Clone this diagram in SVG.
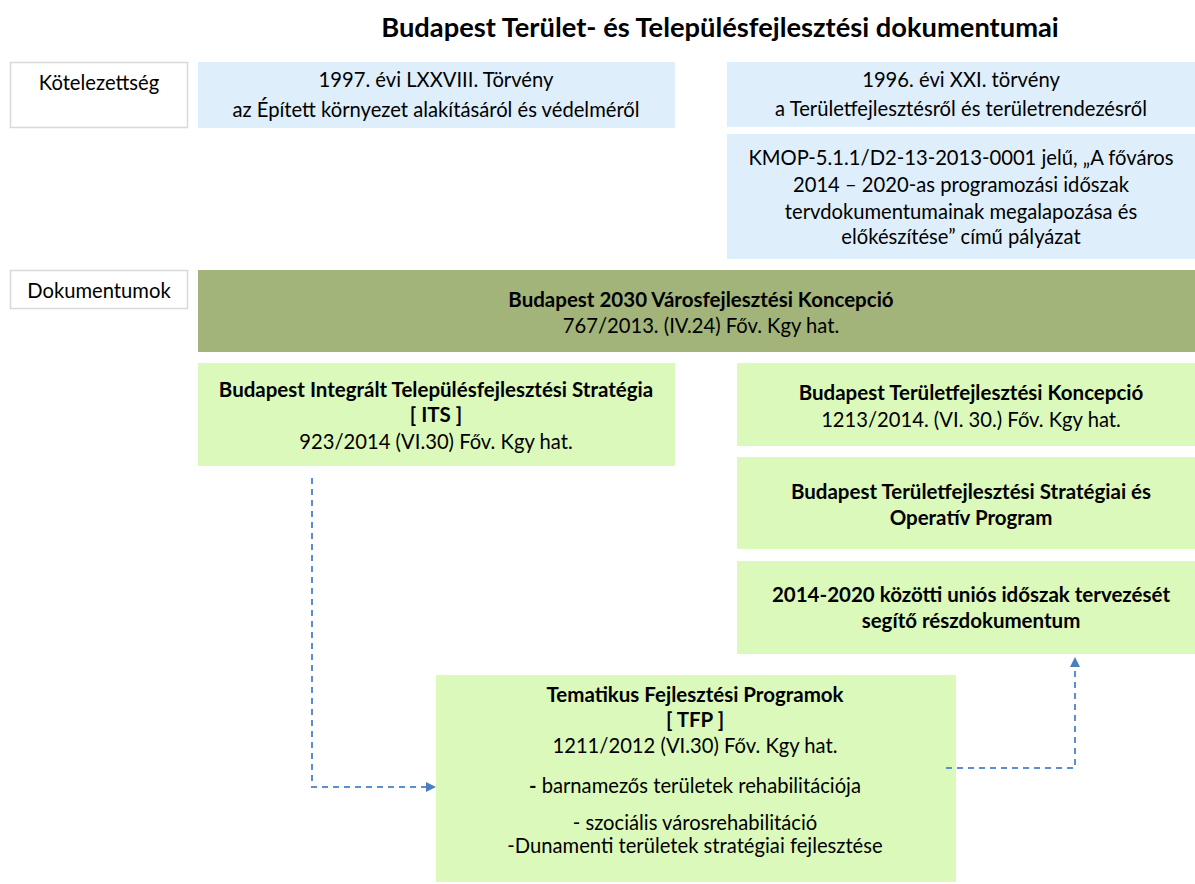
<svg xmlns="http://www.w3.org/2000/svg" width="1195" height="884" viewBox="0 0 1195 884">
<style>
text{font-family:Lato,"Noto Sans","Liberation Sans",sans-serif;fill:#000;text-anchor:middle;font-size:20.2px}
.b{font-weight:bold;font-size:20.5px}
.lbl{fill:#fff;stroke:#d9d9d9;stroke-width:1.5}
.blue{fill:#deeefb}
.dg{fill:#a2b47a}
.lg{fill:#dcf9bc}
.con{fill:none;stroke:#5b8ed0;stroke-width:2;stroke-dasharray:6,5}
</style>
<defs>
<marker id="ah" markerWidth="10" markerHeight="10" refX="8" refY="5" orient="auto" markerUnits="userSpaceOnUse">
<path d="M0,0 L10,5 L0,10 z" fill="#4a7ec2"/>
</marker>
</defs>
<rect width="1195" height="884" fill="#fff"/>
<text x="720" y="37" class="b" style="font-size:27.3px">Budapest Terület- és Településfejlesztési dokumentumai</text>

<g id="kotelezettseg"><rect class="lbl" x="10.5" y="62.5" width="177" height="65"/><text x="99" y="90">Kötelezettség</text></g>
<g id="tv1997"><rect class="blue" x="198" y="62" width="477" height="66"/><text x="436" y="87">1997. évi LXXVIII. Törvény</text><text x="436" y="117">az Épített környezet alakításáról és védelméről</text></g>
<g id="tv1996"><rect class="blue" x="727" y="62" width="468" height="65"/><text x="961" y="87">1996. évi XXI. törvény</text><text x="961" y="116">a Területfejlesztésről és területrendezésről</text></g>
<g id="kmop"><rect class="blue" x="727" y="134" width="468" height="125"/><text x="961" y="165">KMOP-5.1.1/D2-13-2013-0001 jelű, „A főváros</text><text x="961" y="192">2014 – 2020-as programozási időszak</text><text x="961" y="219">tervdokumentumainak megalapozása és</text><text x="961" y="244">előkészítése” című pályázat</text></g>

<g id="dokumentumok"><rect class="lbl" x="10.5" y="270.5" width="177" height="38"/><text x="99" y="298">Dokumentumok</text></g>
<g id="koncepcio2030"><rect class="dg" x="198" y="270" width="997" height="82"/><text x="701" y="307" class="b">Budapest 2030 Városfejlesztési Koncepció</text><text x="701" y="333">767/2013. (IV.24) Főv. Kgy hat.</text></g>
<g id="its"><rect class="lg" x="198" y="363" width="477" height="103"/><text x="436" y="397" class="b">Budapest Integrált Településfejlesztési Stratégia</text><text x="436" y="422" class="b">[ ITS ]</text><text x="436" y="449">923/2014 (VI.30) Főv. Kgy hat.</text></g>
<g id="btk"><rect class="lg" x="737" y="363" width="458" height="83"/><text x="971" y="400" class="b">Budapest Területfejlesztési Koncepció</text><text x="971" y="427">1213/2014. (VI. 30.) Főv. Kgy hat.</text></g>
<g id="btsop"><rect class="lg" x="737" y="457" width="458" height="92"/><text x="971" y="499" class="b">Budapest Területfejlesztési Stratégiai és</text><text x="971" y="525" class="b">Operatív Program</text></g>
<g id="resz"><rect class="lg" x="737" y="561" width="458" height="93"/><text x="971" y="602" class="b">2014-2020 közötti uniós időszak tervezését</text><text x="971" y="628" class="b">segítő részdokumentum</text></g>
<g id="tfp"><rect class="lg" x="436" y="675" width="520" height="207"/><text x="695" y="702" class="b">Tematikus Fejlesztési Programok</text><text x="695" y="727" class="b">[ TFP ]</text><text x="695" y="753">1211/2012 (VI.30) Főv. Kgy hat.</text><text x="695" y="793"><tspan font-weight="bold">-</tspan> barnamezős területek rehabilitációja</text><text x="695" y="830">- szociális városrehabilitáció</text><text x="695" y="853">-Dunamenti területek stratégiai fejlesztése</text></g>

<g id="connectors">
<path class="con" d="M312,478 V787 H434" marker-end="url(#ah)"/>
<path class="con" d="M946,768 H1075 V659" marker-end="url(#ah)"/>
</g>
</svg>
